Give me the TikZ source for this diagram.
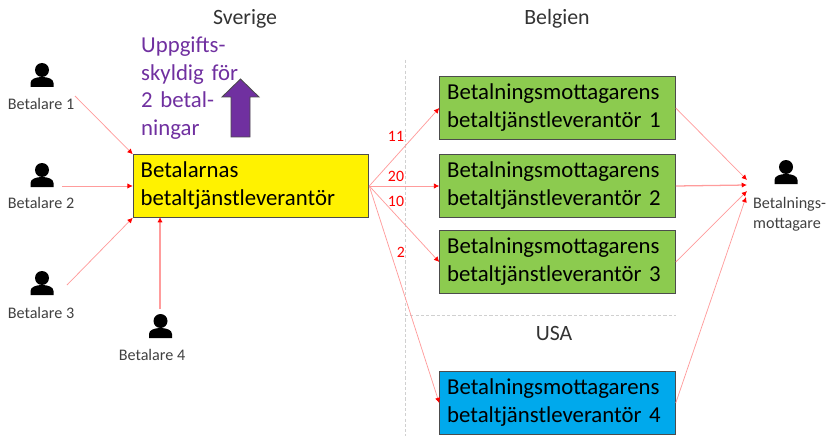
\documentclass[tikz,border=0pt]{standalone}
\usepackage{fontspec}
\setmainfont{Carlito}
\usetikzlibrary{arrows.meta,calc}
\definecolor{boxgreen}{HTML}{8CCB4F}
\definecolor{boxblue}{HTML}{00A9EC}
\definecolor{upcolor}{HTML}{7030A0}
\definecolor{flowline}{HTML}{FF9C9C}
\definecolor{sepline}{HTML}{D0D0D0}
\definecolor{smalltext}{HTML}{404040}

\newcommand{\paylines}[2]{\raisebox{-2.8pt}{#1}\\\raisebox{-2.8pt}{#2}}

\tikzset{
  pay/.style={draw=black!70, line width=.9pt, inner sep=.25cm, text width=7.35cm, minimum height=2.07cm,
    align=left, font=\fontsize{21.6}{26.5}\selectfont},
  flow/.style={draw=flowline, line width=.7pt, -{Latex[length=5pt,width=5pt,color=red]}},
  sep/.style={draw=sepline, densely dashed, line width=.6pt},
  who/.style={font=\fontsize{15.3}{19}\selectfont, text=smalltext, inner sep=0pt},
  count/.style={font=\fontsize{15}{17}\selectfont, text=red, inner sep=0pt},
  land/.style={font=\fontsize{20.7}{24}\selectfont, text=black!80, inner sep=0pt},
  person/.pic={
    \fill (0,0) circle [radius=7];
    \fill (-11.5,17) -- (-11.5,13) .. controls (-11.5,9) and (-6,7) .. (0,7) .. controls (6,7) and (11.5,9) .. (11.5,13) -- (11.5,17) -- cycle;
  }
}

\begin{document}
\begin{tikzpicture}[x=.03333cm, y=-.03333cm]
\useasboundingbox (0,0) rectangle (828,436);

% separators
\coordinate (septop) at (405,60);
\coordinate (sepbot) at (405,436);
\coordinate (sepmid) at (405,315);
\coordinate (sepend) at (676,315);
\draw [sep] (septop) -- (sepbot);
\draw [sep] (sepmid) -- (sepend);

\node [land] at (245,19) (sverige) {Sverige};
\node [land] at (557,19) (belgien) {Belgien};
\node [land] at (554,333) (usa) {USA};

% boxes
\node [pay, fill=yellow] at (251,186) (Yellow) {\paylines{Betalarnas}{betaltjänstleverantör}};
\node [pay, fill=boxgreen] at (557.5,108) (Green1) {\paylines{Betalningsmottagarens}{betaltjänstleverantör 1}};
\node [pay, fill=boxgreen] at (557.5,186) (Green2) {\paylines{Betalningsmottagarens}{betaltjänstleverantör 2}};
\node [pay, fill=boxgreen] at (557.5,262) (Green3) {\paylines{Betalningsmottagarens}{betaltjänstleverantör 3}};
\node [pay, fill=boxblue] at (557.5,403) (Blue4) {\paylines{Betalningsmottagarens}{betaltjänstleverantör 4}};

% reporting duty
\node [anchor=north west, inner sep=0pt, text width=3.4cm, align=left, text=upcolor,
  font=\fontsize{21.6}{26}\selectfont] at (141,37) (duty) {Uppgifts-\\skyldig för\\2 betal-\\ningar};
\draw [draw=black!70, fill=upcolor, line width=.8pt] (231,137) -- (231,97) -- (222,97) -- (240.5,79)
  -- (259,97) -- (250,97) -- (250,137) -- cycle;

% persons
\pic at (42,70) {person};
\pic at (42,170) {person};
\pic at (42,278) {person};
\pic at (160.5,321) {person};
\pic at (786,167) {person};

\node [who] at (41,104) (Bet1) {Betalare 1};
\node [who] at (41,203) (Bet2) {Betalare 2};
\node [who] at (41,313) (Bet3) {Betalare 3};
\node [who] at (152,355) (Bet4) {Betalare 4};
\node [who, anchor=west, align=left] at (753,214) (Rec) {Betalnings-\\mottagare};

\coordinate (out1) at (75,96);
\coordinate (out2) at (62,186);
\coordinate (out3) at (67,285);
\coordinate (out4) at (160,309);
\coordinate (in4) at (160,217);
\coordinate (recA) at (747,180);
\coordinate (recB) at (747,185);
\coordinate (recC) at (747,191);
\coordinate (recD) at (746,197);

\draw [flow] (out1) -- (Yellow.north west);
\draw [flow] (out2) -- (Yellow.west);
\draw [flow] (out3) -- (Yellow.south west);
\draw [flow, line width=1pt] (out4) -- (in4);

\draw [flow] (Yellow.east) -- (Green1.west);
\draw [flow] (Yellow.east) -- (Green2.west);
\draw [flow] (Yellow.east) -- (Green3.west);
\draw [flow] (Yellow.east) -- (Blue4.west);

\draw [flow] (Green1.east) -- (recA);
\draw [flow, line width=1.2pt] (Green2.east) -- (recB);
\draw [flow] (Green3.east) -- (recC);
\draw [flow] (Blue4.east) -- (recD);

\node [count] at (396,136) (n11) {11};
\node [count] at (396,176) (n20) {20};
\node [count] at (396,201) (n10) {10};
\node [count] at (401,252) (n2) {2};
\end{tikzpicture}
\end{document}
